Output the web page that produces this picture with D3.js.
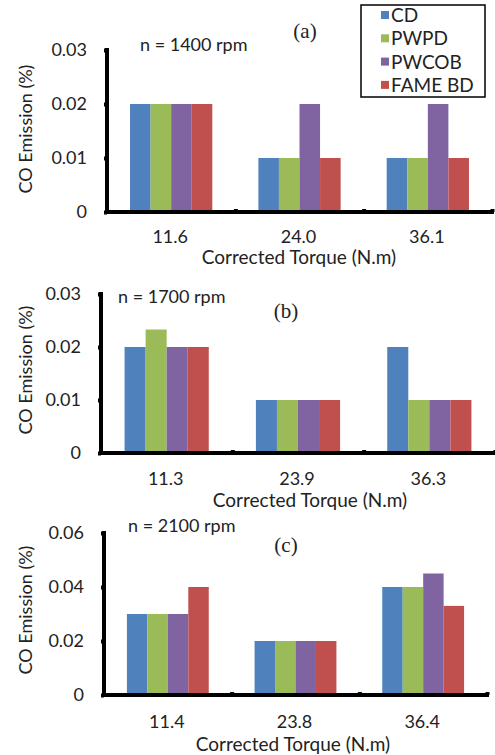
<!DOCTYPE html>
<html>
<head>
<meta charset="utf-8">
<script src="https://cdnjs.cloudflare.com/ajax/libs/d3/7.8.5/d3.min.js"></script>
<style>
  body { margin: 0; background: #fff; }
  svg text { font-family: Lato, "Noto Sans", sans-serif; fill: #222; }
</style>
</head>
<body>
<div id="chart"></div>
<script>
// series names + colours (Excel 2007 palette)
var seriesNames = ["CD", "PWPD", "PWCOB", "FAME BD"];
var seriesColors = ["#4F81BD", "#9BBB59", "#8064A2", "#C0504D"];

// (a) n = 1400 rpm
var torqueA = ["11.6", "24.0", "36.1"];
var cdA    = [0.02, 0.01, 0.01];
var pwpdA  = [0.02, 0.01, 0.01];
var pwcobA = [0.02, 0.02, 0.02];
var fameA  = [0.02, 0.01, 0.01];
var ticksA = [0, 0.01, 0.02, 0.03];

// (b) n = 1700 rpm
var torqueB = ["11.3", "23.9", "36.3"];
var cdB    = [0.02, 0.01, 0.02];
var pwpdB  = [0.0233, 0.01, 0.01];
var pwcobB = [0.02, 0.01, 0.01];
var fameB  = [0.02, 0.01, 0.01];
var ticksB = [0, 0.01, 0.02, 0.03];

// (c) n = 2100 rpm
var torqueC = ["11.4", "23.8", "36.4"];
var cdC    = [0.03, 0.02, 0.04];
var pwpdC  = [0.03, 0.02, 0.04];
var pwcobC = [0.03, 0.02, 0.045];
var fameC  = [0.04, 0.02, 0.033];
var ticksC = [0, 0.02, 0.04, 0.06];

var W = 495, H = 755;
var svg = d3.select("#chart").append("svg")
    .attr("width", W)
    .attr("height", H);

// panel layout (pixel boxes)
var panels = [
  {cats: torqueA, vals: [cdA, pwpdA, pwcobA, fameA], ticks: ticksA, max: 0.03,
   left: 107, right: 492, base: 212, top: 50,
   speed: "n = 1400 rpm", speedX: 140, speedY: 51,
   tag: "(a)", tagX: 305, tagY: 38,
   catY: 243, titleX: 299, titleY: 264, yTitleY: 129},
  {cats: torqueB, vals: [cdB, pwpdB, pwcobB, fameB], ticks: ticksB, max: 0.03,
   left: 101, right: 495, base: 453, top: 294,
   speed: "n = 1700 rpm", speedX: 118, speedY: 303,
   tag: "(b)", tagX: 286, tagY: 318,
   catY: 485, titleX: 310, titleY: 507, yTitleY: 370},
  {cats: torqueC, vals: [cdC, pwpdC, pwcobC, fameC], ticks: ticksC, max: 0.06,
   left: 104, right: 487, base: 695, top: 533,
   speed: "n = 2100 rpm", speedX: 128, speedY: 532,
   tag: "(c)", tagX: 286, tagY: 552,
   catY: 728, titleX: 293, titleY: 751, yTitleY: 610}
];

panels.forEach(drawPanel);

function drawPanel(p) {
  var g = svg.append("g");

  var x0 = d3.scaleBand()
      .domain(p.cats)
      .range([p.left, p.right])
      .padding(0);
  var x1 = d3.scaleBand()
      .domain(seriesNames)
      .range([0, x0.bandwidth()])
      .paddingInner(0)
      .paddingOuter(1.12);
  var y = d3.scaleLinear()
      .domain([0, p.max])
      .range([p.base, p.top]);

  // bars
  p.cats.forEach(function(c, ci) {
    g.selectAll(null)
      .data(seriesNames)
      .enter().append("rect")
        .attr("x", function(s) { return x0(c) + x1(s); })
        .attr("y", function(s, si) { return y(p.vals[si][ci]); })
        .attr("width", x1.bandwidth())
        .attr("height", function(s, si) { return p.base - y(p.vals[si][ci]); })
        .attr("fill", function(s, si) { return seriesColors[si]; });
  });

  // y axis
  var yAxis = d3.axisLeft(y)
      .tickValues(p.ticks)
      .tickSize(3)
      .tickPadding(17)
      .tickFormat(function(d) { return d === 0 ? "0" : d3.format(".2f")(d); });
  var ya = g.append("g")
      .attr("transform", "translate(" + p.left + ",0)")
      .call(yAxis);
  ya.select(".domain").remove();
  ya.selectAll(".tick line").attr("stroke", "#000").attr("stroke-width", 4);
  ya.selectAll("text").style("font-size", "18px").attr("fill", "#222");
  g.append("line")
      .attr("x1", p.left).attr("x2", p.left)
      .attr("y1", p.base).attr("y2", p.top)
      .attr("stroke", "#000").attr("stroke-width", 4)
      .attr("stroke-linecap", "square");

  // x axis: ticks sit on the category borders
  var borders = p.cats.map(function(c) { return x0(c) + x0.bandwidth(); });
  var xb = d3.scaleLinear().domain([p.left, p.right]).range([p.left, p.right]);
  var xa = g.append("g")
      .attr("transform", "translate(0," + p.base + ")")
      .call(d3.axisBottom(xb).tickValues(borders).tickSize(-3).tickFormat(""));
  xa.select(".domain").remove();
  xa.selectAll(".tick line").attr("stroke", "#000").attr("stroke-width", 4);
  g.append("line")
      .attr("x1", p.left).attr("x2", p.right)
      .attr("y1", p.base).attr("y2", p.base)
      .attr("stroke", "#000").attr("stroke-width", 4)
      .attr("stroke-linecap", "square");

  // category labels
  g.selectAll(".catLabel")
    .data(p.cats)
    .enter().append("text")
      .attr("class", "catLabel")
      .attr("x", function(c) { return x0(c) + x0.bandwidth() / 2 - 1; })
      .attr("y", p.catY)
      .attr("text-anchor", "middle")
      .style("font-size", "18px")
      .text(function(c) { return c; });

  g.append("text")
      .attr("x", p.titleX)
      .attr("y", p.titleY)
      .attr("text-anchor", "middle")
      .style("font-size", "19px")
      .text("Corrected Torque (N.m)");

  g.append("text")
      .attr("transform", "translate(32," + p.yTitleY + ") rotate(-90)")
      .attr("text-anchor", "middle")
      .style("font-size", "18px")
      .text("CO Emission (%)");

  g.append("text")
      .attr("x", p.speedX)
      .attr("y", p.speedY)
      .style("font-size", "18px")
      .text(p.speed);

  g.append("text")
      .attr("x", p.tagX)
      .attr("y", p.tagY)
      .attr("text-anchor", "middle")
      .style("font-family", "'Liberation Serif', serif")
      .style("font-size", "21px")
      .text(p.tag);
}

// legend
var legend = svg.append("g");
legend.append("rect")
    .attr("x", 361).attr("y", 5)
    .attr("width", 124).attr("height", 92)
    .attr("fill", "#fff")
    .attr("stroke", "#000").attr("stroke-width", 1.5);
var legItems = legend.selectAll(".legItem")
    .data(seriesNames)
    .enter().append("g")
      .attr("class", "legItem")
      .attr("transform", function(d, i) { return "translate(381," + (15 + i * 23.3) + ")"; });
legItems.append("rect")
    .attr("x", 0).attr("y", -4)
    .attr("width", 8).attr("height", 8)
    .attr("fill", function(d, i) { return seriesColors[i]; });
legItems.append("text")
    .attr("x", 10).attr("y", 7)
    .style("font-size", "19px")
    .text(function(d) { return d; });
</script>
</body>
</html>
